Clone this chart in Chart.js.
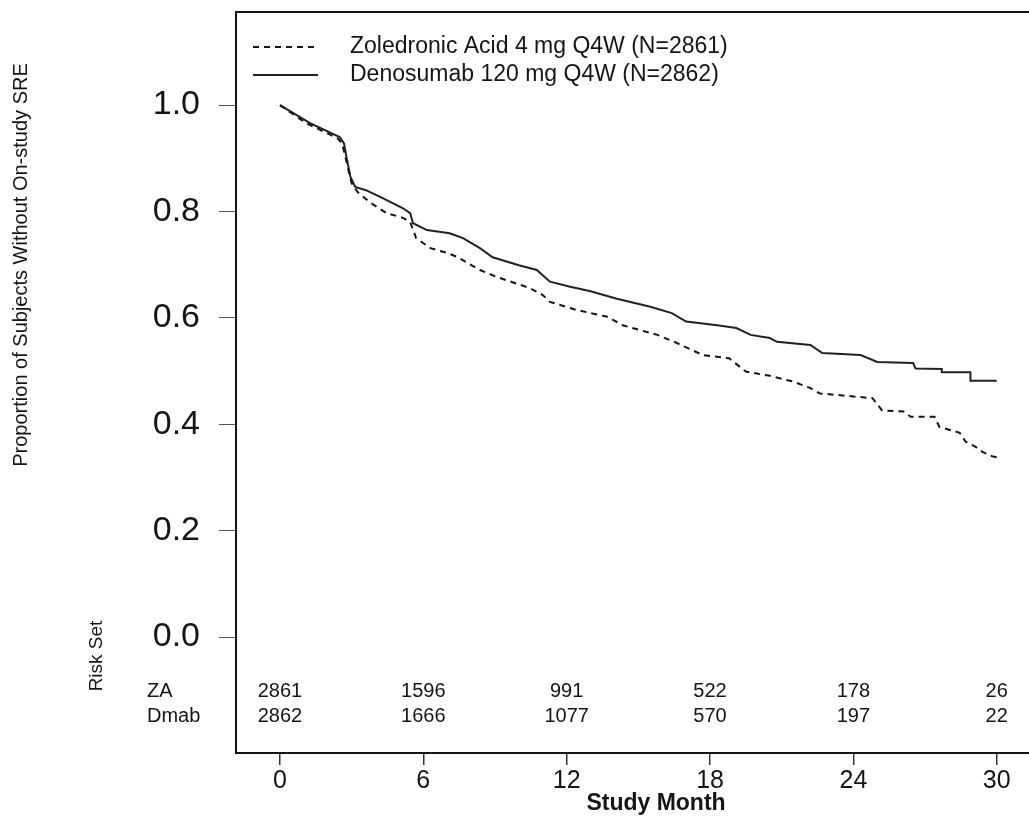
<!DOCTYPE html>
<html>
<head>
<meta charset="utf-8">
<script src="https://cdn.jsdelivr.net/npm/chart.js@4.4.0/dist/chart.umd.min.js"></script>
<style>
  html, body { margin:0; padding:0; background:#fff; overflow:hidden; }
  #wrap { width:1029px; height:825px; }
</style>
</head>
<body>
<div id="wrap"><canvas id="km"></canvas></div>
<script>
// ====================== DATA ======================
const seriesLabels = ['Zoledronic Acid 4 mg Q4W (N=2861)', 'Denosumab 120 mg Q4W (N=2862)'];

const zaMonths = [0, 1.1, 2.4, 2.6, 3.0, 3.26, 3.77, 4.46, 5.15, 5.45, 5.7, 6.3, 7.0, 7.4, 8.37, 9.07,
  10.46, 11.0, 11.3, 12.4, 13.7, 14.35, 15.8, 16.6, 17.7, 18.8, 19.5, 20.5, 21.5, 22.2, 22.6,
  24.8, 25.2, 26.1, 26.4, 27.4, 27.6, 28.45, 28.7, 29.1, 29.4, 29.8, 30.0];
const zaSurv = [1.000, 0.966, 0.938, 0.928, 0.853, 0.836, 0.817, 0.797, 0.788, 0.780, 0.750, 0.731, 0.722, 0.715, 0.690, 0.677,
  0.656, 0.643, 0.630, 0.615, 0.602, 0.586, 0.568, 0.553, 0.530, 0.524, 0.499, 0.491, 0.480, 0.468, 0.458,
  0.449, 0.426, 0.424, 0.414, 0.414, 0.395, 0.384, 0.367, 0.358, 0.348, 0.340, 0.338];

const dmMonths = [0, 1.26, 2.5, 2.68, 2.78, 2.95, 3.15, 3.6, 4.3, 5.15, 5.45, 5.57, 6.15, 7.1, 7.66, 8.37, 8.9,
  10.0, 10.75, 11.3, 12.1, 13.0, 14.1, 15.5, 16.4, 17.0, 18.3, 19.1, 19.7, 20.5, 20.8, 22.2, 22.7,
  24.3, 25.0, 26.5, 26.6, 27.7, 27.7, 28.9, 28.9, 30.0];
const dmSurv = [1.000, 0.966, 0.940, 0.928, 0.903, 0.865, 0.846, 0.840, 0.825, 0.806, 0.797, 0.778, 0.765, 0.759, 0.750, 0.731, 0.714,
  0.699, 0.690, 0.668, 0.659, 0.650, 0.636, 0.621, 0.609, 0.593, 0.586, 0.581, 0.568, 0.562, 0.555, 0.549, 0.534,
  0.530, 0.517, 0.515, 0.505, 0.504, 0.498, 0.498, 0.482, 0.482];

const xTicks = [0, 6, 12, 18, 24, 30];
const yTicks = [0, 0.2, 0.4, 0.6, 0.8, 1.0];

const riskMonths = [0, 6, 12, 18, 24, 30];
const riskZA   = [2861, 1596, 991, 522, 178, 26];
const riskDmab = [2862, 1666, 1077, 570, 197, 22];
const riskRowNames = ['ZA', 'Dmab'];

// ====================== DRAWING ======================
const FONT = '"Liberation Sans", Arial, sans-serif';
const INK = '#151515';

const textPlugin = {
  id: 'kmText',
  afterDatasetsDraw(chart) {
    const { ctx, chartArea, scales } = chart;
    ctx.save();

    // top frame line
    ctx.strokeStyle = INK; ctx.lineWidth = 2;
    ctx.beginPath(); ctx.moveTo(chartArea.left, chartArea.top); ctx.lineTo(chartArea.right, chartArea.top); ctx.stroke();

    // legend
    chart.data.datasets.forEach((ds, i) => {
      const y = 47 + i * 28;
      ctx.strokeStyle = ds.borderColor; ctx.lineWidth = 2;
      ctx.setLineDash(ds.borderDash || []);
      ctx.beginPath(); ctx.moveTo(253, y); ctx.lineTo(318, y); ctx.stroke();
      ctx.setLineDash([]);
      ctx.fillStyle = INK; ctx.font = '23px ' + FONT;
      ctx.textAlign = 'left'; ctx.textBaseline = 'middle';
      ctx.fillText(ds.label, 350, y);
    });

    // risk set table
    const rowLevels = [-0.103, -0.149];
    [riskZA, riskDmab].forEach((row, r) => {
      const y = scales.y.getPixelForValue(rowLevels[r]);
      ctx.font = '20px ' + FONT; ctx.fillStyle = INK; ctx.textBaseline = 'middle';
      ctx.textAlign = 'left';
      ctx.fillText(riskRowNames[r], 147, y);
      ctx.textAlign = 'center';
      row.forEach((n, k) => ctx.fillText(String(n), scales.x.getPixelForValue(riskMonths[k]), y));
    });

    // rotated labels
    ctx.textAlign = 'center'; ctx.textBaseline = 'middle';
    ctx.save(); ctx.translate(97, 656); ctx.rotate(-Math.PI / 2);
    ctx.font = '19px ' + FONT; ctx.fillText('Risk Set', 0, 0); ctx.restore();
    ctx.save(); ctx.translate(21, 265); ctx.rotate(-Math.PI / 2);
    ctx.font = '20px ' + FONT; ctx.fillText('Proportion of Subjects Without On-study SRE', 0, 0); ctx.restore();

    // x title
    ctx.font = 'bold 23px ' + FONT;
    ctx.fillText('Study Month', 656, 804);
    ctx.restore();
  }
};

new Chart(document.getElementById('km'), {
  type: 'line',
  data: {
    datasets: [
      { label: seriesLabels[0], data: zaMonths.map((m, i) => ({ x: m, y: zaSurv[i] })),
        borderColor: INK, borderWidth: 2, borderDash: [6, 5], pointRadius: 0, tension: 0, fill: false },
      { label: seriesLabels[1], data: dmMonths.map((m, i) => ({ x: m, y: dmSurv[i] })),
        borderColor: '#222', borderWidth: 2, pointRadius: 0, tension: 0, fill: false }
    ]
  },
  options: {
    responsive: true, maintainAspectRatio: false, animation: false,
    layout: { padding: { top: 12, left: 0, right: 0, bottom: 0 } },
    plugins: { legend: { display: false }, tooltip: { enabled: false } },
    scales: {
      x: {
        type: 'linear', min: -1.84, max: 31.35,
        afterBuildTicks: s => { s.ticks = xTicks.map(v => ({ value: v })); },
        afterFit: s => { s.height = 72; s.paddingLeft = 0; s.paddingRight = 0; },
        grid: { drawOnChartArea: false, drawTicks: true, tickLength: 12, color: '#333', lineWidth: 1.5 },
        border: { display: true, color: INK, width: 2 },
        ticks: { color: INK, padding: 1, font: { family: FONT, size: 25 }, callback: v => String(v) }
      },
      y: {
        type: 'linear', min: -0.218, max: 1.175,
        afterBuildTicks: s => { s.ticks = yTicks.map(v => ({ value: v })); },
        afterFit: s => { s.width = 236; s.paddingTop = 0; s.paddingBottom = 0; },
        grid: { drawOnChartArea: false, drawTicks: true, tickLength: 17, color: '#555', lineWidth: 1 },
        border: { display: true, color: INK, width: 2 },
        ticks: { color: INK, padding: 19, font: { family: FONT, size: 34 }, callback: v => Number(v).toFixed(1) }
      }
    }
  },
  plugins: [textPlugin]
});
</script>
</body>
</html>
